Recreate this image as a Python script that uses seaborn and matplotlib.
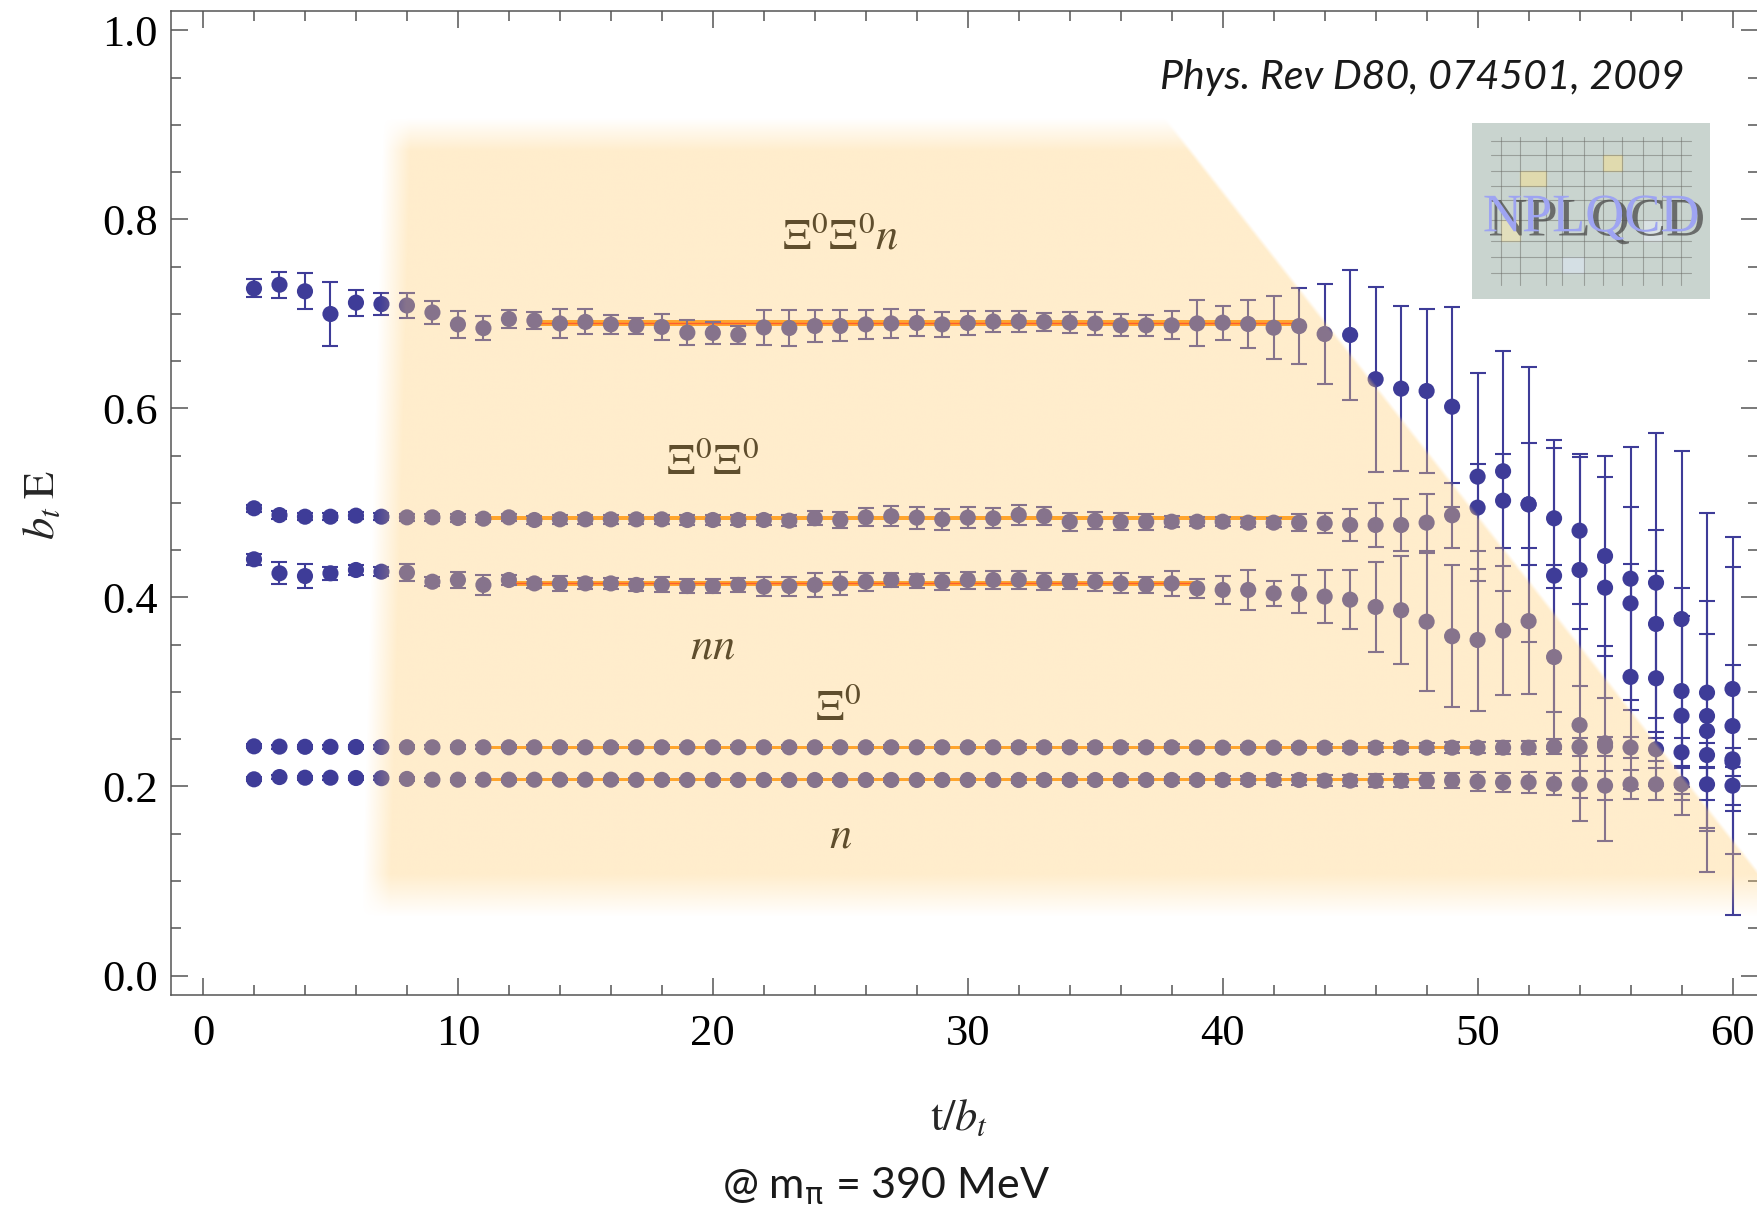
import numpy as np
import pandas as pd
import seaborn as sns
import matplotlib.pyplot as plt
import matplotlib.patheffects as pe

# time slices (same for every state)
t = list(range(2, 61))

# Xi0 Xi0 n
xxn_E = [0.727, 0.731, 0.724, 0.700, 0.712, 0.7105, 0.709, 0.7016, 0.689, 0.685,
         0.6947, 0.693, 0.690, 0.6916, 0.689, 0.6877, 0.6863, 0.6803, 0.680, 0.678,
         0.6858, 0.6852, 0.6873, 0.6873, 0.689, 0.690, 0.6905, 0.689, 0.6905, 0.692,
         0.692, 0.6916, 0.6909, 0.690, 0.688, 0.688, 0.688, 0.690, 0.6908, 0.6894,
         0.6855, 0.6872, 0.6788, 0.6778, 0.631, 0.621, 0.6185, 0.6019, 0.5279, 0.5336,
         0.4986, 0.4231, 0.4291, 0.4104, 0.4199, 0.4157, 0.3772, 0.2993, 0.264]
xxn_err = [0.0095, 0.0138, 0.0189, 0.034, 0.0138, 0.0116, 0.0136, 0.0122, 0.0143, 0.0129,
           0.0097, 0.0093, 0.015, 0.0132, 0.0104, 0.0085, 0.0141, 0.0129, 0.0115, 0.0093,
           0.0185, 0.0194, 0.0169, 0.0164, 0.0152, 0.0153, 0.0138, 0.0134, 0.0125, 0.0113,
           0.011, 0.0099, 0.011, 0.0118, 0.0116, 0.011, 0.0148, 0.0243, 0.0178, 0.0254,
           0.0335, 0.040, 0.0534, 0.069, 0.098, 0.087, 0.087, 0.1058, 0.110, 0.127,
           0.1455, 0.144, 0.123, 0.117, 0.139, 0.158, 0.178, 0.19, 0.2]

# Xi0 Xi0
xx_E = [0.4944, 0.4872, 0.4855, 0.4855, 0.4866, 0.4855, 0.4848, 0.4848, 0.4841, 0.4834,
        0.4848, 0.482, 0.4827, 0.4827, 0.4827, 0.4827, 0.4827, 0.482, 0.482, 0.482,
        0.482, 0.4813, 0.4838, 0.482, 0.4848, 0.486, 0.4845, 0.4827, 0.4845, 0.4838,
        0.4873, 0.486, 0.4802, 0.4813, 0.4802, 0.4802, 0.4802, 0.4802, 0.4802, 0.4792,
        0.4792, 0.4792, 0.4785, 0.4767, 0.4767, 0.4767, 0.4792, 0.487, 0.4951, 0.5025,
        0.4986, 0.4838, 0.4707, 0.4439, 0.3938, 0.372, 0.301, 0.2746, 0.3032]
xx_err = [0.004, 0.004, 0.004, 0.004, 0.004, 0.004, 0.004, 0.004, 0.004, 0.004,
          0.004, 0.004, 0.005, 0.005, 0.005, 0.005, 0.005, 0.005, 0.005, 0.005,
          0.005, 0.006, 0.0076, 0.008, 0.0095, 0.0106, 0.0115, 0.011, 0.011, 0.0104,
          0.0106, 0.0093, 0.0097, 0.0092, 0.0088, 0.0085, 0.006, 0.005, 0.005, 0.005,
          0.005, 0.0088, 0.0106, 0.0168, 0.0236, 0.0275, 0.030, 0.0342, 0.0459, 0.0497,
          0.0646, 0.074, 0.0776, 0.106, 0.102, 0.099, 0.109, 0.122, 0.129]

# n n
nn_E = [0.4404, 0.4256, 0.4227, 0.4256, 0.4291, 0.4273, 0.4263, 0.4167, 0.4185, 0.4133,
        0.4185, 0.4149, 0.4149, 0.4149, 0.4149, 0.4133, 0.4133, 0.4121, 0.4121, 0.4133,
        0.4114, 0.4121, 0.4133, 0.4149, 0.4167, 0.4185, 0.4178, 0.4167, 0.4185, 0.4185,
        0.4185, 0.4167, 0.4167, 0.4167, 0.4149, 0.4133, 0.4149, 0.4096, 0.408, 0.408,
        0.4044, 0.4037, 0.401, 0.3977, 0.390, 0.3865, 0.3744, 0.359, 0.355, 0.365,
        0.375, 0.337, 0.265, 0.2457, 0.316, 0.3145, 0.2749, 0.2587, 0.2288]
nn_err = [0.006, 0.0115, 0.0127, 0.007, 0.005, 0.005, 0.0092, 0.005, 0.0083, 0.011,
          0.005, 0.005, 0.008, 0.006, 0.006, 0.006, 0.008, 0.007, 0.007, 0.007,
          0.0102, 0.010, 0.0127, 0.0118, 0.0097, 0.007, 0.0075, 0.009, 0.009, 0.010,
          0.0095, 0.009, 0.008, 0.0097, 0.0106, 0.0085, 0.013, 0.0097, 0.0145, 0.0215,
          0.0132, 0.0203, 0.028, 0.0314, 0.0476, 0.057, 0.073, 0.075, 0.075, 0.068,
          0.077, 0.097, 0.102, 0.103, 0.119, 0.1135, 0.105, 0.103, 0.10]

# Xi0
x_E = [0.2425, 0.2422, 0.242, 0.242, 0.2418, 0.2418, 0.2416, 0.2415, 0.2415, 0.2415,
       0.2415, 0.2415, 0.2415, 0.2415, 0.2415, 0.2415, 0.2415, 0.2415, 0.2415, 0.2415,
       0.2415, 0.2415, 0.2415, 0.2415, 0.2415, 0.2415, 0.2415, 0.2415, 0.2415, 0.2415,
       0.2415, 0.2415, 0.2415, 0.2415, 0.2415, 0.2415, 0.2415, 0.2413, 0.2411, 0.2411,
       0.2411, 0.2411, 0.2411, 0.2411, 0.2411, 0.2411, 0.2411, 0.2411, 0.2411, 0.2411,
       0.2411, 0.2421, 0.2418, 0.2425, 0.2413, 0.2394, 0.2362, 0.2333, 0.226]
x_err = [0.002] * 30 + [0.003] * 12 + [0.004, 0.004, 0.005, 0.005, 0.005, 0.006, 0.006,
                                       0.007, 0.007, 0.008, 0.009, 0.010, 0.011, 0.012,
                                       0.015, 0.013, 0.015]

# n
n_E = [0.2076, 0.2100, 0.2093, 0.2093, 0.2090, 0.2088, 0.2080, 0.2072, 0.2072, 0.2072,
       0.2072, 0.2072, 0.2072, 0.2072, 0.2072, 0.2070, 0.2070, 0.2069, 0.2069, 0.2069,
       0.2069, 0.2069, 0.2069, 0.2069, 0.2069, 0.2069, 0.2069, 0.2069, 0.2069, 0.2069,
       0.2069, 0.2069, 0.2069, 0.2069, 0.2069, 0.2069, 0.2069, 0.2069, 0.2069, 0.2069,
       0.2069, 0.2069, 0.2062, 0.2062, 0.2060, 0.2060, 0.2062, 0.2062, 0.2051, 0.2044,
       0.2044, 0.2027, 0.2023, 0.2009, 0.2023, 0.2023, 0.2025, 0.2023, 0.2009]
n_err = [0.002] * 30 + [0.003] * 8 + [0.004, 0.004, 0.005, 0.005, 0.006, 0.006, 0.007,
                                      0.007, 0.0076, 0.008, 0.010, 0.010, 0.011, 0.012,
                                      0.014, 0.015, 0.0155, 0.017, 0.017, 0.017, 0.02]

states = ['xxn', 'xx', 'nn', 'x', 'n']
energies = [xxn_E, xx_E, nn_E, x_E, n_E]
errors = [xxn_err, xx_err, nn_err, x_err, n_err]

# plateau fits: start, end, value, half width of the band
fit_start = [13, 11, 12, 11, 11]
fit_end = [43, 43, 39, 50, 48]
fit_value = [0.6905, 0.4838, 0.4149, 0.2415, 0.2072]
fit_band = [0.0030, 0.0022, 0.0026, 0.0018, 0.0018]
fit_redline = [True, False, True, False, False]

labels = [r'$\Xi^0\Xi^0n$', r'$\Xi^0\Xi^0$', r'$nn$', r'$\Xi^0$', r'$n$']
label_t = [25.0, 20.0, 20.0, 24.9, 25.0]
label_y = [0.769, 0.531, 0.335, 0.270, 0.135]

rows = []
for s, E, err in zip(states, energies, errors):
    for ti, e, de in zip(t, E, err):
        rows.append({'t': ti, 'E': e, 'err': de, 'state': s})
df = pd.DataFrame(rows)

blue = '#3e3c98'
XMIN, XMAX = -1.236, 61.0
YMIN, YMAX = -0.0201, 1.0204

sns.set_theme(style='ticks')
plt.rcParams['font.family'] = ['Liberation Serif', 'DejaVu Serif']
plt.rcParams['mathtext.fontset'] = 'stix'

W, H = 1758, 1215
fig = plt.figure(figsize=(W / 100, H / 100), dpi=100)
ax = fig.add_axes([171.5 / W, 1 - 994.5 / H, 1 - 171.5 / W, (994.5 - 11.2) / H])

# fit bands below the points
for s0, s1, v, b, red in zip(fit_start, fit_end, fit_value, fit_band, fit_redline):
    ax.fill_between([s0, s1], v - b, v + b, color='#ff8c00', lw=0, zorder=2)
    if red:
        ax.plot([s0, s1], [v, v], color='#ff1a00', lw=1.0, zorder=2.1)

for s in states:
    d = df[df.state == s]
    ax.errorbar(d.t, d.E, yerr=d.err, fmt='none', ecolor=blue, elinewidth=1.5,
                capsize=6, capthick=1.5, zorder=3)
sns.scatterplot(data=df, x='t', y='E', hue='state', palette=[blue] * 5, s=135,
                edgecolor='none', linewidth=0, legend=False, ax=ax, zorder=4)

for lab, lx, ly in zip(labels, label_t, label_y):
    ax.text(lx, ly, lab, ha='center', va='baseline', fontsize=32, color='black', zorder=4.5)

# translucent plateau region drawn over everything
xs = np.linspace(XMIN, XMAX, 1600)
ys = np.linspace(YMIN, YMAX, 1100)
X, Y = np.meshgrid(xs, ys)


def ramp(v, w):
    return np.clip(v / w + 0.5, 0, 1)


left_edge = 6.8 + (Y - 0.08) * 1.0
alpha = ramp(X - left_edge, 1.1) * ramp(Y - 0.085, 0.045) * ramp(0.89 - Y, 0.035)
diag = 0.905 - (X - 37.8) * 0.0343
alpha = alpha * ramp(diag - Y, 0.006)
shade = np.zeros(X.shape + (4,))
shade[..., 0] = 1.0
shade[..., 1] = 208 / 255
shade[..., 2] = 121 / 255
shade[..., 3] = 0.38 * alpha
ax.imshow(shade, extent=(XMIN, XMAX, YMIN, YMAX), origin='lower', aspect='auto',
          interpolation='bilinear', zorder=5)

ax.set_xlim(XMIN, XMAX)
ax.set_ylim(YMIN, YMAX)
ax.set_xticks(range(0, 61, 10))
ax.set_xticks(range(0, 61, 2), minor=True)
ax.set_yticks(np.round(np.arange(0, 1.01, 0.2), 1))
ax.set_yticks(np.arange(0, 1.001, 0.05), minor=True)
ax.set_yticklabels(['0.0', '0.2', '0.4', '0.6', '0.8', '1.0'])
ax.tick_params(which='both', direction='in', top=True, right=True, color='#555555',
               width=1.1, labelsize=32, labelcolor='black')
ax.tick_params(which='major', length=12)
ax.tick_params(which='minor', length=7)
ax.tick_params(axis='x', pad=14)
ax.tick_params(axis='y', pad=10)
ax.set_xlabel('')
ax.set_ylabel('')
for side in ['left', 'bottom', 'top']:
    ax.spines[side].set_color('#555555')
    ax.spines[side].set_linewidth(1.1)
ax.spines['right'].set_visible(False)
ax.set_facecolor('white')

fig.text(43 / W, 1 - 505 / H, r'$b_t\;\mathrm{E}$', rotation=90, ha='center', va='center',
         fontsize=32)
fig.text(959 / W, 1 - 1119 / H, r'$\mathrm{t}/b_t$', ha='center', va='center', fontsize=32)
fig.text(886 / W, 1 - 1186 / H, r'@ m$_\mathrm{\pi}$ = 390 MeV', ha='center', va='center',
         fontsize=31, family=['Lato', 'DejaVu Sans'], color='#1a1a1a',
         math_fontfamily='dejavusans')
fig.text(1422 / W, 1 - 78 / H, 'Phys. Rev D80, 074501, 2009', ha='center', va='center',
         fontsize=29.5, family=['Lato', 'DejaVu Sans'], style='italic', color='#1a1a1a')

# group logo
logo = fig.add_axes([1472 / W, 1 - 299 / H, 238 / W, 176 / H])
logo.set_xlim(0, 1)
logo.set_ylim(0, 1)
logo.set_facecolor('#c9d4cf')
for xv in [0.12, 0.2, 0.31, 0.38, 0.47, 0.55, 0.63, 0.72, 0.8, 0.88]:
    logo.plot([xv, xv], [0.08, 0.92], color='#6b6b66', lw=0.8, alpha=0.5)
for yv in [0.15, 0.24, 0.33, 0.45, 0.56, 0.64, 0.73, 0.82, 0.9]:
    logo.plot([0.08, 0.92], [yv, yv], color='#6b6b66', lw=0.8, alpha=0.5)
for x0, y0, w, h, c in [(0.2, 0.64, 0.11, 0.09, '#e6dca6'), (0.55, 0.73, 0.08, 0.09, '#e6dca6'),
                        (0.38, 0.15, 0.09, 0.09, '#d8e2ea'), (0.72, 0.33, 0.08, 0.12, '#dfe6ea'),
                        (0.12, 0.33, 0.08, 0.12, '#e9e2b8')]:
    logo.add_patch(plt.Rectangle((x0, y0), w, h, color=c, alpha=0.8))
logo.text(0.5, 0.46, 'NPLQCD', ha='center', va='center', fontsize=39, color='#9ea4f2',
          family=['Liberation Serif'],
          path_effects=[pe.withSimplePatchShadow(offset=(4, -3), shadow_rgbFace='#4a4a4a',
                                                 alpha=0.75)])
logo.set_xticks([])
logo.set_yticks([])
for sp in logo.spines.values():
    sp.set_visible(False)

fig.savefig('out.png', dpi=100)
